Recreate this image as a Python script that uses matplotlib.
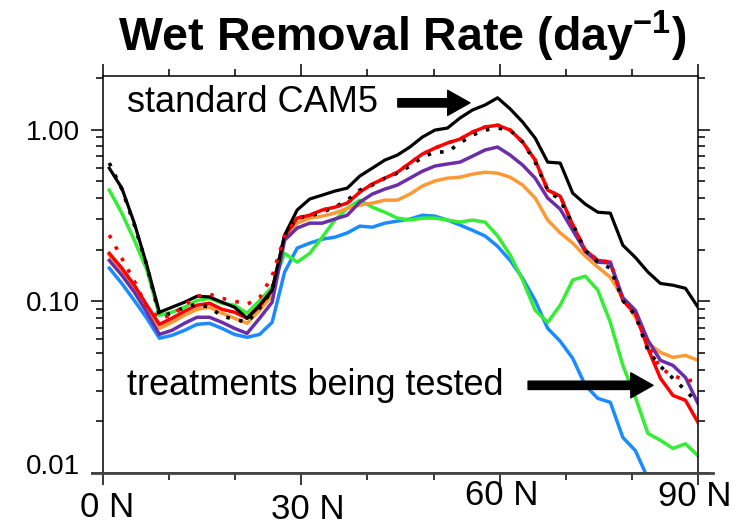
import numpy as np
import matplotlib
matplotlib.use("Agg")
import matplotlib.pyplot as plt
from matplotlib.ticker import FixedLocator, NullFormatter
from matplotlib.transforms import ScaledTranslation

plt.rcParams['font.family'] = ['Liberation Sans', 'DejaVu Sans']
plt.rcParams['mathtext.fontset'] = 'custom'
plt.rcParams['mathtext.bf'] = 'Liberation Sans:bold'
plt.rcParams['mathtext.rm'] = 'Liberation Sans'

# model latitudes (northern hemisphere, ~1.9 deg grid)
lats = np.linspace(0.95, 90.0, 48)

# wet removal rate (1/day), zonal mean
cam5_std = [0.596, 0.456, 0.285, 0.162, 0.0863, 0.0923, 0.0987, 0.107, 0.106, 0.0987,
            0.0923, 0.0796, 0.0948, 0.116, 0.243, 0.340, 0.394, 0.415, 0.438, 0.456,
            0.536, 0.596, 0.664, 0.710, 0.791, 0.904, 0.993, 1.02, 1.167, 1.30,
            1.39, 1.53, 1.32, 1.106, 0.892, 0.646, 0.638, 0.426, 0.368, 0.330,
            0.326, 0.212, 0.180, 0.148, 0.127, 0.124, 0.119, 0.0923]
cam5_std_dot = [0.638, 0.450, 0.278, 0.162, 0.0818, 0.0852, 0.0923, 0.0961, 0.0923, 0.0818,
                0.0786, 0.0754, 0.0910, 0.116, 0.240, 0.305, 0.313, 0.330, 0.353, 0.388,
                0.444, 0.475, 0.521, 0.557, 0.613, 0.690, 0.740, 0.740, 0.835, 0.928,
                0.993, 1.02, 0.993, 0.846, 0.646, 0.444, 0.388, 0.282, 0.198, 0.169,
                0.156, 0.101, 0.0829, 0.0518, 0.0418, 0.0356, 0.0303, 0.0254]
trt_red = [0.190, 0.156, 0.124, 0.0948, 0.0734, 0.0796, 0.0874, 0.0948, 0.0974, 0.0898,
           0.0863, 0.0796, 0.0935, 0.116, 0.240, 0.305, 0.317, 0.340, 0.353, 0.373,
           0.432, 0.482, 0.521, 0.564, 0.638, 0.720, 0.780, 0.835, 0.880, 0.967,
           1.035, 1.06, 0.993, 0.846, 0.664, 0.444, 0.409, 0.278, 0.198, 0.173,
           0.169, 0.101, 0.0852, 0.0532, 0.0356, 0.0283, 0.0265, 0.0197]
trt_red_dot = [0.243, 0.178, 0.131, 0.0923, 0.0796, 0.0829, 0.0948, 0.107, 0.110, 0.104,
               0.100, 0.0961, 0.105, 0.140, 0.240, 0.305, 0.317, 0.340, 0.353, 0.373,
               0.432, 0.482, 0.521, 0.564, 0.638, 0.720, 0.780, 0.835, 0.880, 0.967,
               1.035, 1.06, 0.993, 0.846, 0.664, 0.444, 0.409, 0.278, 0.198, 0.173,
               0.169, 0.101, 0.0852, 0.0554, 0.0407, 0.0370, 0.0346, 0.0346]
trt_purple = [0.173, 0.142, 0.113, 0.0863, 0.0641, 0.0677, 0.0744, 0.0807, 0.0807, 0.0754,
              0.0695, 0.0650, 0.0796, 0.0987, 0.227, 0.267, 0.285, 0.285, 0.301, 0.317,
              0.378, 0.421, 0.450, 0.475, 0.521, 0.572, 0.613, 0.630, 0.646, 0.700,
              0.760, 0.791, 0.710, 0.621, 0.521, 0.399, 0.344, 0.259, 0.195, 0.169,
              0.167, 0.105, 0.0886, 0.0593, 0.0453, 0.0423, 0.0360, 0.0254]
trt_orange = [0.186, 0.152, 0.119, 0.0910, 0.0695, 0.0754, 0.0829, 0.0898, 0.0923, 0.0852,
              0.0796, 0.0744, 0.0886, 0.108, 0.236, 0.285, 0.305, 0.313, 0.326, 0.348,
              0.363, 0.373, 0.388, 0.388, 0.421, 0.469, 0.502, 0.521, 0.528, 0.550,
              0.564, 0.557, 0.528, 0.475, 0.399, 0.297, 0.250, 0.218, 0.183, 0.158,
              0.138, 0.105, 0.0807, 0.0570, 0.0504, 0.0471, 0.0484, 0.0453]
trt_green = [0.444, 0.326, 0.227, 0.152, 0.0829, 0.0863, 0.0923, 0.101, 0.104, 0.0974,
             0.0948, 0.0852, 0.101, 0.121, 0.190, 0.169, 0.190, 0.236, 0.297, 0.348,
             0.388, 0.353, 0.330, 0.305, 0.297, 0.305, 0.305, 0.297, 0.289, 0.297,
             0.289, 0.240, 0.186, 0.133, 0.0886, 0.0754, 0.0948, 0.133, 0.140, 0.116,
             0.0754, 0.0423, 0.0276, 0.0170, 0.0155, 0.0139, 0.0148, 0.0126]
trt_blue = [0.156, 0.127, 0.101, 0.0796, 0.0609, 0.0633, 0.0677, 0.0734, 0.0744, 0.0695,
            0.0641, 0.0617, 0.0641, 0.0754, 0.148, 0.204, 0.218, 0.230, 0.236, 0.250,
            0.274, 0.270, 0.285, 0.293, 0.301, 0.317, 0.313, 0.297, 0.278, 0.259,
            0.240, 0.209, 0.173, 0.136, 0.101, 0.0695, 0.0585, 0.0465, 0.0324, 0.0272,
            0.0258, 0.0161, 0.0135, 0.0093, 0.0062, 0.0042, 0.0028, 0.0019]

xticks = [0, 30, 60, 90]
xticklabels = ['0 N', '30 N', '60 N', '90 N']
yticks = [0.01, 0.1, 1.0]
yticklabels = ['0.01', '0.10', '1.00']

fig = plt.figure(figsize=(7.47, 5.26), dpi=100)
ax = fig.add_axes([103 / 747, 1 - 473 / 526, 595 / 747, 397 / 526])

lw = 2.5
ax.plot(lats, trt_blue, color='#1a8cff', lw=lw)
ax.plot(lats, trt_green, color='#33ee33', lw=lw)
ax.plot(lats, trt_orange, color='#ff9933', lw=lw)
ax.plot(lats, trt_red, color='#ff0000', lw=lw)
ax.plot(lats, trt_purple, color='#6a2fa8', lw=lw)
ax.plot(lats, cam5_std, color='black', lw=2.3)
ax.plot(lats, cam5_std_dot, color='black', lw=2.6, ls=(0, (1, 2.6)))
ax.plot(lats, trt_red_dot, color='#ff0000', lw=2.6, ls=(0, (1, 2.6)))

ax.set_yscale('log')
ax.set_xlim(0, 90)
ax.set_ylim(0.01, 2.05)

ax.set_xticks(xticks)
ax.set_xticklabels(xticklabels, fontsize=25)
ax.xaxis.set_minor_locator(FixedLocator([10, 20, 40, 50, 70, 80]))
ax.set_yticks(yticks)
ax.set_yticklabels(yticklabels, fontsize=20)
ax.yaxis.set_minor_locator(FixedLocator([d * m for d in (0.01, 0.1, 1.0) for m in range(2, 10)]))
ax.yaxis.set_minor_formatter(NullFormatter())

ax.tick_params(which='both', direction='out', top=True, right=True, width=1.1)
ax.tick_params(which='major', length=8.6)
ax.tick_params(which='minor', length=5)
ax.tick_params(axis='x', which='major', pad=2)
ax.tick_params(axis='y', which='major', pad=8)
for s in ax.spines.values():
    s.set_linewidth(1.1)

# nudge a few tick labels like the original layout
dpi_tr = fig.dpi_scale_trans
x_shift = {'0 N': (4, -3), '30 N': (6, -5), '60 N': (2, 9), '90 N': (-3, 8)}
for lab in ax.get_xticklabels():
    dx, dy = x_shift[lab.get_text()]
    lab.set_transform(lab.get_transform() + ScaledTranslation(dx / 100, dy / 100, dpi_tr))
for lab in ax.get_yticklabels():
    if lab.get_text() == '0.01':
        lab.set_transform(lab.get_transform() + ScaledTranslation(0, 9 / 100, dpi_tr))

# baseline extends past the frame
ax.axhline(0.01, xmin=-0.019, xmax=1.025, color='#444444', lw=2, clip_on=False, zorder=5)

ax.text(3.6, 1.43, 'standard CAM5', fontsize=26, va='center', ha='left')
ax.text(3.6, 0.0324, 'treatments being tested', fontsize=26, va='center', ha='left')
arrow = dict(arrowstyle='simple,head_length=0.8,head_width=0.9,tail_width=0.3',
             fc='black', ec='black', mutation_scale=20, shrinkA=0, shrinkB=0)
ax.annotate('', xy=(55.5, 1.43), xytext=(44.6, 1.43), arrowprops=arrow)
ax.annotate('', xy=(83.2, 0.0324), xytext=(64.3, 0.0324), arrowprops=arrow)

fig.text(402 / 747, 1 - 36 / 526, r'Wet Removal Rate (day$^{\mathbf{-1}}$)',
         ha='center', va='center', fontsize=33.5, fontweight='bold')

fig.savefig('out.png', dpi=100)
